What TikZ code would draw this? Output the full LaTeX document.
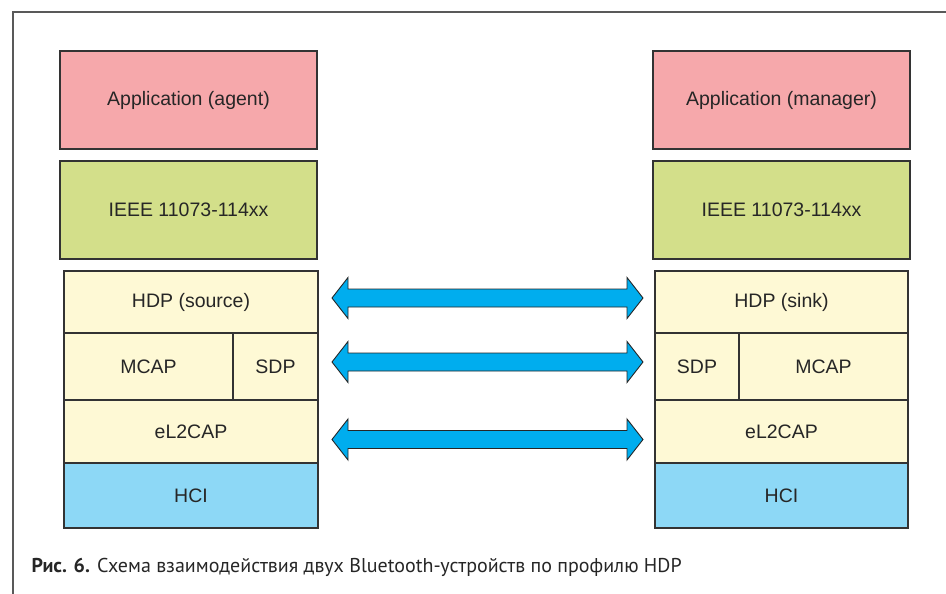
\documentclass[tikz,border=0pt]{standalone}
\usepackage{fontspec}
\setmainfont{Liberation Sans}
\newfontfamily\capfont{PT Sans}
\usetikzlibrary{calc}

\definecolor{apppink}{HTML}{F6A8AB}
\definecolor{ieeegreen}{HTML}{D3DF8A}
\definecolor{stackcream}{HTML}{FEF9D5}
\definecolor{hciblue}{HTML}{8DD8F6}
\definecolor{linkblue}{HTML}{00ADEE}

\begin{document}
\begin{tikzpicture}[x=1pt, y=-1pt,
    box/.style={draw=black!80, line width=1.2pt, anchor=north west, inner sep=0pt,
        outer sep=0pt, text=black!85, font=\fontsize{19.5}{23}\selectfont},
    biarrow/.style={draw=black!85, fill=linkblue, line width=0.9pt, line join=miter,
        to path={-- ++(16,-20.5) -- ++(0,11.5) -- ($(\tikztotarget)+(-16,-9)$)
            -- ++(0,-11.5) -- (\tikztotarget) -- ++(-16,20.5) -- ++(0,-11.5)
            -- ($(\tikztostart)+(16,9)$) -- ++(0,11.5) -- cycle}}]
    % Sizes of the blocks
    \def\wApp{257pt} % width of the upper blocks
    \def\wStack{254pt} % width of the protocol stack
    \useasboundingbox (0,0) rectangle (946,594);

    % Frame
    \draw[black!65, line width=1.6pt] (13,594) -- (13,12) -- (946,12);

    % Agent (left)
    \node[box, fill=apppink, minimum width=\wApp, minimum height=98pt] (appL) at (60,51) {Application (agent)};
    \node[box, fill=ieeegreen, minimum width=\wApp, minimum height=98pt] (ieeeL) at (60,161) {IEEE 11073-114xx};
    \node[box, fill=stackcream, minimum width=\wStack, minimum height=62pt] (hdpL) at (64,271) {HDP (source)};
    \node[box, fill=stackcream, minimum width=169pt, minimum height=67pt] (mcapL) at (64,333) {MCAP};
    \node[box, fill=stackcream, minimum width=85pt, minimum height=67pt] (sdpL) at (233,333) {SDP};
    \node[box, fill=stackcream, minimum width=\wStack, minimum height=63pt] (l2capL) at (64,400) {eL2CAP};
    \node[box, fill=hciblue, minimum width=\wStack, minimum height=65pt] (hciL) at (64,463) {HCI};

    % Manager (right)
    \node[box, fill=apppink, minimum width=\wApp, minimum height=98pt] (appR) at (653,51) {Application (manager)};
    \node[box, fill=ieeegreen, minimum width=\wApp, minimum height=98pt] (ieeeR) at (653,161) {IEEE 11073-114xx};
    \node[box, fill=stackcream, minimum width=253pt, minimum height=62pt] (hdpR) at (655,271) {HDP (sink)};
    \node[box, fill=stackcream, minimum width=84pt, minimum height=67pt] (sdpR) at (655,333) {SDP};
    \node[box, fill=stackcream, minimum width=169pt, minimum height=67pt] (mcapR) at (739,333) {MCAP};
    \node[box, fill=stackcream, minimum width=253pt, minimum height=63pt] (l2capR) at (655,400) {eL2CAP};
    \node[box, fill=hciblue, minimum width=253pt, minimum height=65pt] (hciR) at (655,463) {HCI};

    % Ends of the links between the two stacks
    \coordinate (hdpA) at ($(hdpL.east)+(14,-4)$);
    \coordinate (hdpB) at ($(hdpR.west)+(-12,-4)$);
    \coordinate (mcapA) at ($(sdpL.east)+(14,-4.5)$);
    \coordinate (mcapB) at ($(sdpR.west)+(-12,-4.5)$);
    \coordinate (l2capA) at ($(l2capL.east)+(14,8)$);
    \coordinate (l2capB) at ($(l2capR.west)+(-12,8)$);

    % Links
    \foreach \a/\b in {hdpA/hdpB, mcapA/mcapB, l2capA/l2capB}
        \draw[biarrow] (\a) to (\b);

    % Caption
    \node[anchor=base west, text=black!85, font=\capfont\fontsize{20}{24}\selectfont] (caption) at (28,572)
        {\textbf{Рис. 6.} Схема взаимодействия двух Bluetooth-устройств по профилю HDP};
\end{tikzpicture}
\end{document}
